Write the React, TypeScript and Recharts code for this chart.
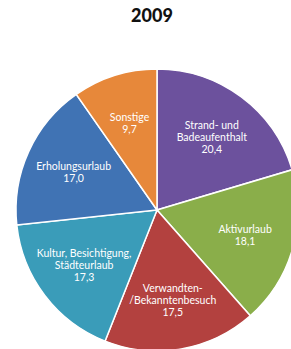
import React from 'react';
import { PieChart, Pie, Cell } from 'recharts';

const title = '2009';
const categories = [
  'Strand- und|Badeaufenthalt',
  'Aktivurlaub',
  'Verwandten-|/Bekanntenbesuch',
  'Kultur, Besichtigung,|Städteurlaub',
  'Erholungsurlaub',
  'Sonstige',
];
const values = [20.4, 18.1, 17.5, 17.3, 17.0, 9.7];
const colors = ['#6C519D', '#8AAE4A', '#B3413F', '#3A9CB9', '#4073B4', '#E7883A'];

const data = categories.map((c, i) => ({ name: c, value: values[i] }));

const RAD = Math.PI / 180;
const fmt = (v: number) => v.toFixed(1).replace('.', ',');

const renderLabel = (props: any) => {
  const { cx, cy, midAngle, outerRadius, index } = props;
  const r = outerRadius * 0.65;
  const x = cx + r * Math.cos(-midAngle * RAD);
  const y = cy + r * Math.sin(-midAngle * RAD);
  const lines = [...categories[index].split('|'), fmt(values[index])];
  const lh = 12;
  const y0 = y - ((lines.length - 1) * lh) / 2;
  return (
    <text
      x={x}
      y={y0}
      fill="#ffffff"
      textAnchor="middle"
      dominantBaseline="central"
      fontFamily="Lato, sans-serif"
      fontSize={10.5}
    >
      {lines.map((l, i) => (
        <tspan key={i} x={x} y={y0 + i * lh}>
          {l}
        </tspan>
      ))}
    </text>
  );
};

export default function App() {
  return (
    <div style={{ position: 'absolute', left: 0, top: 0, width: 291, height: 349, background: '#fff' }}>
      <div
        style={{
          position: 'absolute',
          left: 0,
          top: 4,
          width: 304,
          textAlign: 'center',
          fontFamily: 'Lato, sans-serif',
          fontWeight: 900,
          fontSize: 18,
          color: '#111111',
        }}
      >
        {title}
      </div>
      <PieChart width={291} height={349}>
        <Pie
          data={data}
          dataKey="value"
          nameKey="name"
          cx={152}
          cy={205}
          outerRadius={141}
          startAngle={90}
          endAngle={-270}
          stroke="#ffffff"
          strokeWidth={1.5}
          label={renderLabel}
          labelLine={false}
          isAnimationActive={false}
        >
          {data.map((d, i) => (
            <Cell key={d.name} fill={colors[i]} />
          ))}
        </Pie>
      </PieChart>
    </div>
  );
}
